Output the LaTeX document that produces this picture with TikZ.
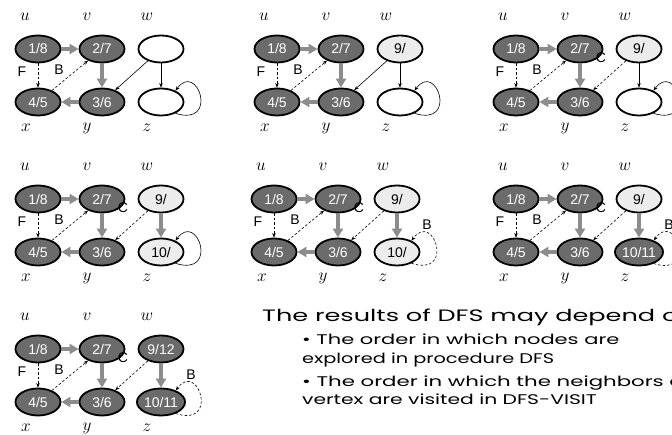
\documentclass[tikz,border=0pt]{standalone}
\usepackage{fontspec}
\setmainfont{Liberation Sans}
\newfontfamily\gothicfont{Poppins}
\usetikzlibrary{arrows.meta,shapes.geometric}

\definecolor{finished}{HTML}{6B6B6B}
\definecolor{discovered}{HTML}{ECECEC}
\definecolor{treeedge}{HTML}{8C8C8C}

\tikzset{
  vtx/.style={ellipse, draw=black, line width=1.8pt, minimum width=45pt,
    minimum height=27pt, inner sep=0pt, font=\fontsize{14}{14}\selectfont},
  blackv/.style={vtx, fill=finished, text=white},
  grayv/.style={vtx, fill=discovered, text=black},
  whitev/.style={vtx, fill=white},
  treearrow/.style={draw=treeedge, line width=3.5pt,
    -{Triangle[length=9pt,width=10pt]}},
  plainarrow/.style={draw=black, line width=0.6pt,
    -{Stealth[length=4.5pt,width=3.5pt]}},
  dasharrow/.style={plainarrow, dash pattern=on 2.5pt off 2pt},
  vname/.style={font=\fontsize{16}{16}\selectfont},
  elabel/.style={font=\fontsize{14}{14}\selectfont, inner sep=0pt},
  heading/.style={font=\gothicfont\fontsize{16.5}{16.5}\selectfont, anchor=base west, inner sep=0pt},
  bullet/.style={font=\gothicfont\fontsize{14}{14}\selectfont, anchor=base west, inner sep=0pt},
}

% Wide setting of the remark lines
\newcommand{\widetext}[2]{\scalebox{#1}[1]{#2}}

% The four vertices u, v, x, y that are already finished in every snapshot,
% with their tree edges, the forward edge F and the back edge B.
\newcommand{\finishedpart}[1]{%
  \node[blackv] (#1u) at (0,0) {1/8};
  \node[blackv] (#1v) at (64,0) {2/7};
  \node[blackv] (#1x) at (0,53) {4/5};
  \node[blackv] (#1y) at (64,53) {3/6};
  \node[vname] (#1lu) at (-13,-32) {$u$};
  \node[vname] (#1lv) at (49,-32) {$v$};
  \node[vname] (#1lw) at (109,-32) {$w$};
  \node[vname] (#1lx) at (-12,79) {$x$};
  \node[vname] (#1ly) at (49,79) {$y$};
  \node[vname] (#1lz) at (109,79) {$z$};
  \draw[treearrow] (#1u) -- (#1v);
  \draw[treearrow] (#1v) -- (#1y);
  \draw[treearrow] (#1y) -- (#1x);
  \draw[dasharrow] (#1u) -- (#1x);
  \draw[dasharrow] (#1x) -- (#1v);
  \node[elabel] (#1F) at (-16,23) {F};
  \node[elabel] (#1B) at (21,21) {B};
}

% Self-loop on z
\newcommand{\zloop}[2]{%
  \draw[#2] (#1.-38) .. controls +(44,14) and +(22,-30) .. (#1.38);
}

\begin{document}
\begin{tikzpicture}[x=1pt,y=-1pt]
  \useasboundingbox (0,0) rectangle (672,435);
  \clip (0,0) rectangle (672,435);

  % Snapshot 1: w and z still white
  \begin{scope}[shift={(38,49)}]
    \finishedpart{a}
    \node[whitev] (aw) at (123,0) {};
    \node[whitev] (az) at (123,53) {};
    \draw[plainarrow] (aw) -- (ay);
    \draw[plainarrow] (aw) -- (az);
    \zloop{az}{plainarrow}
  \end{scope}

  % Snapshot 2: w discovered
  \begin{scope}[shift={(277,49)}]
    \finishedpart{b}
    \node[grayv] (bw) at (123,0) {9/};
    \node[whitev] (bz) at (123,53) {};
    \draw[plainarrow] (bw) -- (by);
    \draw[plainarrow] (bw) -- (bz);
    \zloop{bz}{plainarrow}
  \end{scope}

  % Snapshot 3: (w,y) is a cross edge
  \begin{scope}[shift={(516,49)}]
    \finishedpart{c}
    \node[grayv] (cw) at (123,0) {9/};
    \node[whitev] (cz) at (123,53) {};
    \draw[dasharrow] (cw) -- (cy);
    \node[elabel] (cC) at (85,9) {C};
    \draw[plainarrow] (cw) -- (cz);
    \zloop{cz}{plainarrow}
  \end{scope}

  % Snapshot 4: z discovered through a tree edge
  \begin{scope}[shift={(38,199)}]
    \finishedpart{d}
    \node[grayv] (dw) at (123,0) {9/};
    \node[grayv] (dz) at (123,53) {10/};
    \draw[dasharrow] (dw) -- (dy);
    \node[elabel] (dC) at (85,9) {C};
    \draw[treearrow] (dw) -- (dz);
    \zloop{dz}{plainarrow}
  \end{scope}

  % Snapshot 5: self-loop on z is a back edge
  \begin{scope}[shift={(274,199)}]
    \finishedpart{e}
    \node[grayv] (ew) at (123,0) {9/};
    \node[grayv] (ez) at (123,53) {10/};
    \draw[dasharrow] (ew) -- (ey);
    \node[elabel] (eC) at (85,9) {C};
    \draw[treearrow] (ew) -- (ez);
    \zloop{ez}{dasharrow}
    \node[elabel] (eB2) at (153,26) {B};
  \end{scope}

  % Snapshot 6: z finished
  \begin{scope}[shift={(516,199)}]
    \finishedpart{f}
    \node[grayv] (fw) at (123,0) {9/};
    \node[blackv] (fz) at (123,53) {10/11};
    \draw[dasharrow] (fw) -- (fy);
    \node[elabel] (fC) at (85,9) {C};
    \draw[treearrow] (fw) -- (fz);
    \zloop{fz}{dasharrow}
    \node[elabel] (fB2) at (153,26) {B};
  \end{scope}

  % Snapshot 7: w finished
  \begin{scope}[shift={(38,349)}]
    \finishedpart{g}
    \node[blackv] (gw) at (123,0) {9/12};
    \node[blackv] (gz) at (123,53) {10/11};
    \draw[dasharrow] (gw) -- (gy);
    \node[elabel] (gC) at (85,9) {C};
    \draw[treearrow] (gw) -- (gz);
    \zloop{gz}{dasharrow}
    \node[elabel] (gB2) at (153,26) {B};
  \end{scope}

  % Remarks
  \node[heading] (t0) at (262,322) {\widetext{1.55}{The results of DFS may depend on:}};
  \node[bullet] (t1) at (302,345) {\widetext{1.5}{\textbullet\ The order in which nodes are}};
  \node[bullet] (t2) at (302,364) {\widetext{1.38}{explored in procedure DFS}};
  \node[bullet] (t3) at (302,387) {\widetext{1.52}{\textbullet\ The order in which the neighbors of a}};
  \node[bullet] (t4) at (302,405) {\widetext{1.45}{vertex are visited in DFS-VISIT}};
\end{tikzpicture}
\end{document}
